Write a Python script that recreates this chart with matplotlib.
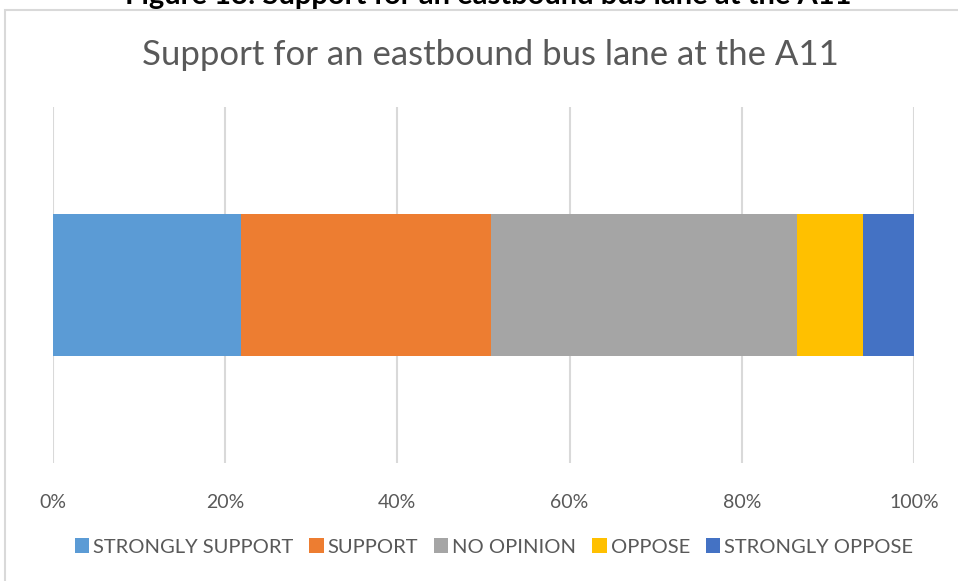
import matplotlib
matplotlib.use("Agg")
import matplotlib.pyplot as plt
from matplotlib.patches import Rectangle

# survey responses, share of respondents (%)
categories = ["STRONGLY SUPPORT", "SUPPORT", "NO OPINION", "OPPOSE", "STRONGLY OPPOSE"]
shares = [21.8, 29.1, 35.5, 7.7, 5.9]
colors = ["#5b9bd5", "#ed7d31", "#a5a5a5", "#ffc000", "#4472c4"]
xticks = [0, 20, 40, 60, 80, 100]
xticklabels = ["0%", "20%", "40%", "60%", "80%", "100%"]

plt.rcParams["font.family"] = ["Lato", "DejaVu Sans"]
txt = "#595959"

fig = plt.figure(figsize=(9.58, 5.81), dpi=100)

# chart frame
fig.patches.append(Rectangle((5/958, -0.05), 1.2, 1 - 10/581 + 0.05, transform=fig.transFigure,
                             fill=False, edgecolor="#d9d9d9", linewidth=1.5))

ax = fig.add_axes([53/958, 1 - 463/581, 861/958, 356/581])

left = 0
for cat, v, c in zip(categories, shares, colors):
    ax.barh(0, v, left=left, height=0.4, color=c, label=cat, zorder=3)
    left += v

ax.set_xlim(0, 100)
ax.set_ylim(-0.5, 0.5)
ax.set_xticks(xticks)
ax.set_xticklabels(xticklabels, fontsize=14, color=txt)
ax.set_yticks([])
ax.tick_params(axis="x", length=0, pad=22)
ax.grid(axis="x", color="#d9d9d9", linewidth=1.5, zorder=0)
for s in ax.spines.values():
    s.set_visible(False)

fig.text(490/958, 1 - 55/581, "Support for an eastbound bus lane at the A11",
         ha="center", va="center", fontsize=25, color=txt)
# document caption sits above the chart frame, partly outside the figure
fig.text(488/958, 1 - 4/581, "Figure 13: Support for an eastbound bus lane at the A11",
         ha="center", va="baseline", fontsize=21, fontweight="bold", color="black")

fig.legend(loc="center", bbox_to_anchor=(494/958, 1 - 547/581), ncol=5, frameon=False,
           fontsize=14.5, labelcolor=txt, handlelength=0.7, handleheight=0.7,
           handletextpad=0.2, columnspacing=0.8)

fig.savefig("out.png", dpi=100)
